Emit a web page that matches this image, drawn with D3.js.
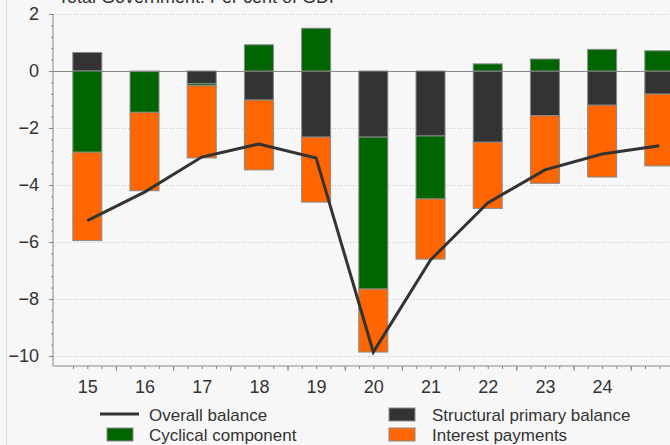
<!DOCTYPE html>
<html>
<head>
<meta charset="utf-8">
<script src="https://cdn.jsdelivr.net/npm/d3@7"></script>
<style>
  html, body { margin: 0; padding: 0; background: #f7f7f7; }
  svg { display: block; font-family: "Liberation Sans", Arial, sans-serif; }
</style>
</head>
<body>
<div id="chart"></div>
<script>
// data (per cent of GDP), years 2015-2025
const years = [15, 16, 17, 18, 19, 20, 21, 22, 23, 24, 25];
const structural = [0.65, -0.02, -0.45, -1.02, -2.32, -2.32, -2.28, -2.50, -1.57, -1.20, -0.81];
const cyclical   = [-2.85, -1.43, -0.07, 0.92, 1.50, -5.33, -2.21, 0.25, 0.42, 0.76, 0.71];
const interest   = [-3.10, -2.75, -2.53, -2.45, -2.28, -2.21, -2.11, -2.32, -2.37, -2.52, -2.52];
const overall    = [-5.25, -4.25, -3.02, -2.56, -3.05, -9.86, -6.63, -4.63, -3.47, -2.91, -2.62];

const xLabels = [15, 16, 17, 18, 19, 20, 21, 22, 23, 24];
const yTicks = [2, 0, -2, -4, -6, -8, -10];

const W = 670, H = 445;
const colors = { structural: "#333333", cyclical: "#006400", interest: "#ff6600" };

const svg = d3.select("#chart").append("svg")
    .attr("width", W)
    .attr("height", H);

svg.append("rect")
    .attr("width", W).attr("height", H)
    .attr("fill", "#f7f7f7");

// faint panel border on the left
svg.append("line")
    .attr("x1", 6.5).attr("x2", 6.5)
    .attr("y1", 0).attr("y2", H)
    .attr("stroke", "#dddddd");

// scales
const x = d3.scaleLinear().domain([14.4, 25.6]).range([53, 53 + 11.2 * 57.2]);
const y = d3.scaleLinear().domain([-10.35, 2]).range([366, 14]);
const barW = 29;

// title (cut at top edge)
svg.append("text")
    .attr("x", 58).attr("y", 3)
    .style("font-size", "18px")
    .style("fill", "#333")
    .text("Total Government. Per cent of GDP");

// gridlines
svg.append("g")
  .selectAll("line")
  .data(yTicks.filter(d => d !== 0))
  .join("line")
    .attr("x1", 53).attr("x2", W)
    .attr("y1", d => Math.round(y(d)) + 0.5)
    .attr("y2", d => Math.round(y(d)) + 0.5)
    .attr("stroke", "#c8c8c8")
    .attr("stroke-dasharray", "1,2");

// zero line
svg.append("line")
    .attr("x1", 53).attr("x2", W)
    .attr("y1", Math.round(y(0)) + 0.5).attr("y2", Math.round(y(0)) + 0.5)
    .attr("stroke", "#888");

// stacked bars
const rows = years.map((yr, i) => ({
  year: yr,
  structural: structural[i],
  cyclical: cyclical[i],
  interest: interest[i]
}));

const stack = d3.stack()
    .keys(["structural", "cyclical", "interest"])
    .offset(d3.stackOffsetDiverging);

svg.append("g")
  .selectAll("g")
  .data(stack(rows))
  .join("g")
    .attr("fill", s => colors[s.key])
  .selectAll("rect")
  .data(s => s)
  .join("rect")
    .attr("x", d => x(d.data.year) - barW / 2)
    .attr("y", d => y(Math.max(d[0], d[1])))
    .attr("width", barW)
    .attr("height", d => Math.abs(y(d[0]) - y(d[1])))
    .attr("stroke", "#8a8a8a")
    .attr("stroke-width", 1);

// overall balance line
svg.append("path")
    .datum(overall)
    .attr("fill", "none")
    .attr("stroke", "#333")
    .attr("stroke-width", 3)
    .attr("d", d3.line().x((d, i) => x(years[i])).y(d => y(d)));

// y axis: minor ticks, then major ticks with labels
const yMinor = svg.append("g")
    .attr("transform", "translate(53,0)")
    .call(d3.axisLeft(y).tickValues(d3.range(-10, 2.01, 0.4)).tickSize(2).tickFormat(""));
const yAxis = svg.append("g")
    .attr("transform", "translate(53,0)")
    .call(d3.axisLeft(y).tickValues(yTicks).tickSize(4).tickPadding(10).tickFormat(d3.format("d")));
yAxis.select(".domain").attr("d", `M0,${y(2)}V${y(-10.35)}`);

// x axis: quarter ticks, year boundaries, labels
const xMinor = svg.append("g")
    .attr("transform", "translate(0,366)")
    .call(d3.axisBottom(x).tickValues(d3.range(14.75, 25.6, 0.25)).tickSize(3).tickFormat(""));
const xMajor = svg.append("g")
    .attr("transform", "translate(0,366)")
    .call(d3.axisBottom(x).tickValues(d3.range(15.5, 25.6, 1)).tickSize(5).tickFormat(""));
const xAxis = svg.append("g")
    .attr("transform", "translate(0,366)")
    .call(d3.axisBottom(x).tickValues(xLabels).tickSize(0).tickPadding(14).tickFormat(d3.format("d")));
xAxis.select(".domain").attr("d", `M53,0H${W}`);

[yMinor, xMinor, xMajor].forEach(a => a.select(".domain").remove());
svg.selectAll(".tick line, .domain").attr("stroke", "#888");
svg.selectAll(".tick text")
    .style("font-size", "18px")
    .style("fill", "#333")
    .style("font-family", "Liberation Sans, Arial, sans-serif");

// legend
const legend = svg.append("g").style("font-size", "17px").style("fill", "#333");

legend.append("line")
    .attr("x1", 100).attr("x2", 139)
    .attr("y1", 414).attr("y2", 414)
    .attr("stroke", "#333").attr("stroke-width", 3);
legend.append("text").attr("x", 149).attr("y", 421).text("Overall balance");

legend.append("rect")
    .attr("x", 107).attr("y", 428).attr("width", 26).attr("height", 13)
    .attr("fill", colors.cyclical).attr("stroke", "#8a8a8a");
legend.append("text").attr("x", 149).attr("y", 441).text("Cyclical component");

legend.append("rect")
    .attr("x", 389).attr("y", 408).attr("width", 26).attr("height", 13)
    .attr("fill", colors.structural).attr("stroke", "#8a8a8a");
legend.append("text").attr("x", 432).attr("y", 421).text("Structural primary balance");

legend.append("rect")
    .attr("x", 389).attr("y", 428).attr("width", 26).attr("height", 13)
    .attr("fill", colors.interest).attr("stroke", "#8a8a8a");
legend.append("text").attr("x", 432).attr("y", 441).text("Interest payments");
</script>
</body>
</html>
